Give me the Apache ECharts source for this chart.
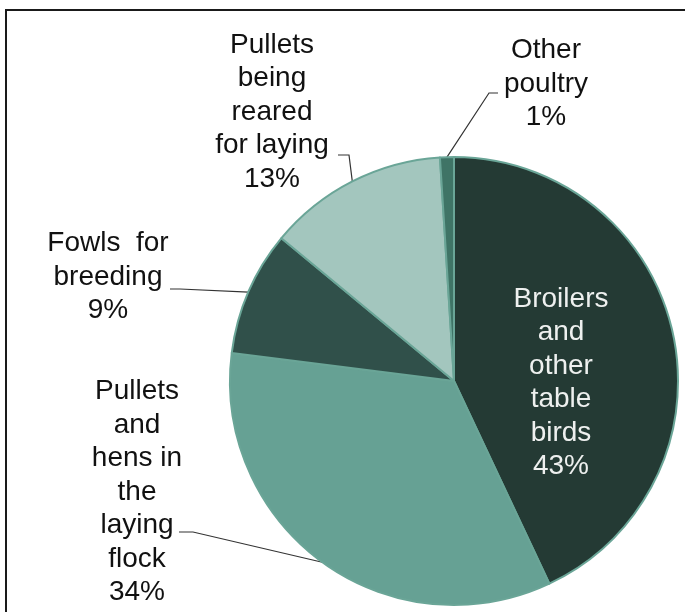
<!DOCTYPE html>
<html>
<head>
<meta charset="utf-8">
<script src="https://cdn.jsdelivr.net/npm/echarts@6/dist/echarts.min.js"></script>
<style>
  html, body { margin: 0; padding: 0; background: #fff; }
  #chart { width: 685px; height: 612px; }
</style>
</head>
<body>
<div id="chart"></div>
<script>
// Poultry flock composition, share of birds (%)
const categories = [
  'Broilers\nand\nother\ntable\nbirds',
  'Pullets\nand\nhens in\nthe\nlaying\nflock',
  'Fowls  for\nbreeding',
  'Pullets\nbeing\nreared\nfor laying',
  'Other\npoultry'
];
const shares = [43, 34, 9, 13, 1];

const sliceColors = ['#243a34', '#66a194', '#30504a', '#a3c6be', '#3f7466'];

// Label anchor (text-block centre) and leader-line bend/end per slice
const labelPlacement = [
  { x: 561, y: 383, inside: true },
  { x: 137, y: 492, bend: [193, 532], end: [179, 532] },
  { x: 108, y: 277, bend: [180, 289], end: [170, 289] },
  { x: 272, y: 112, bend: [349, 155], end: [338, 155] },
  { x: 546, y: 84, bend: [489, 93], end: [498, 93] }
];

const chart = echarts.init(document.getElementById('chart'), null, { renderer: 'canvas' });

const data = categories.map((name, i) => {
  const item = {
    name: name,
    value: shares[i],
    itemStyle: { color: sliceColors[i] }
  };
  if (labelPlacement[i].inside) {
    item.label = { position: 'inside', color: '#eef0ef' };
    item.labelLine = { show: false };
  }
  return item;
});

chart.setOption({
  animation: false,
  backgroundColor: '#ffffff',
  graphic: [{
    type: 'rect',
    shape: { x: 6, y: 10, width: 720, height: 640 },
    style: { fill: 'none', stroke: '#1a1a1a', lineWidth: 2 },
    silent: true
  }],
  series: [{
    type: 'pie',
    center: [454, 381],
    radius: 224,
    startAngle: 90,
    clockwise: true,
    avoidLabelOverlap: false,
    itemStyle: { borderColor: '#6aa597', borderWidth: 2 },
    label: {
      show: true,
      position: 'outside',
      color: '#111111',
      fontFamily: 'Liberation Sans, Arial, sans-serif',
      fontSize: 28,
      lineHeight: 33.5,
      align: 'center',
      formatter: p => p.name + '\n' + p.value + '%'
    },
    labelLine: {
      show: true,
      lineStyle: { color: '#333333', width: 1.2 }
    },
    labelLayout: function (params) {
      const pl = labelPlacement[params.dataIndex];
      const out = { x: pl.x, y: pl.y, align: 'center', verticalAlign: 'middle' };
      if (!pl.inside && params.labelLinePoints) {
        out.labelLinePoints = [params.labelLinePoints[0], pl.bend, pl.end];
      }
      return out;
    },
    data: data
  }]
});
</script>
</body>
</html>
